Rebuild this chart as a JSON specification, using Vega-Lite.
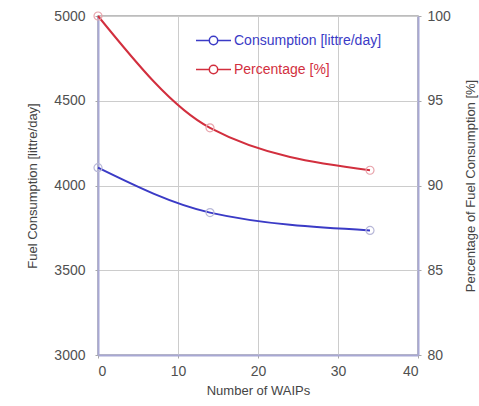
{
  "$schema": "https://vega.github.io/schema/vega-lite/v6.json",
  "width": 320,
  "height": 339,
  "autosize": "none",
  "padding": {"left": 98, "top": 16, "right": 61, "bottom": 51},
  "background": "white",
  "config": {
    "font": "Liberation Sans",
    "view": {"stroke": "#a8a8a8", "strokeWidth": 1.5},
    "axis": {
      "labelFontSize": 14,
      "labelColor": "#505050",
      "titleFontSize": 13,
      "titleFontWeight": "normal",
      "titleColor": "#444444",
      "domainColor": "#a8a8d4",
      "domainWidth": 2,
      "tickColor": "#a8a8a8",
      "tickSize": 3,
      "gridColor": "#cccccc",
      "gridWidth": 1,
      "format": "d"
    }
  },
  "data": {
    "values": [
      {"n": 0, "consumption": 4105, "percentage": 100},
      {"n": 14, "consumption": 3840, "percentage": 93.4},
      {"n": 34, "consumption": 3735, "percentage": 90.9}
    ]
  },
  "encoding": {
    "x": {
      "field": "n",
      "type": "quantitative",
      "scale": {"domain": [0, 40], "nice": false},
      "axis": {"title": "Number of WAIPs", "values": [0, 10, 20, 30, 40], "labelPadding": 6, "titlePadding": 6}
    }
  },
  "layer": [
    {
      "encoding": {
        "y": {
          "field": "consumption",
          "type": "quantitative",
          "scale": {"domain": [3000, 5000], "nice": false, "zero": false},
          "axis": {"title": "Fuel Consumption [littre/day]", "values": [3000, 3500, 4000, 4500, 5000], "labelPadding": 10, "titlePadding": 14}
        }
      },
      "layer": [
        {
          "mark": {"type": "line", "interpolate": "monotone", "strokeWidth": 2},
          "encoding": {
            "color": {
              "datum": "Consumption [littre/day]",
              "type": "nominal",
              "scale": {"domain": ["Consumption [littre/day]", "Percentage [%]"], "range": ["#3b3bc6", "#d22f3e"]},
              "legend": {
                "title": null,
                "orient": "none",
                "legendX": 97,
                "legendY": 10,
                "symbolType": "M-1,0L-0.24,0M0.24,0L1,0M0.24,0A0.24,0.24,0,1,1,-0.24,0A0.24,0.24,0,1,1,0.24,0",
                "symbolSize": 1225,
                "symbolStrokeWidth": 1.5,
                "symbolFillColor": "transparent",
                "labelFontSize": 14,
                "labelOffset": 2,
                "clipHeight": 29,
                "rowPadding": 0,
                "encode": {"labels": {"update": {"fill": {"scale": "color", "field": "value"}}}}
              }
            }
          }
        },
        {
          "mark": {"type": "point", "shape": "circle", "filled": false, "size": 64, "stroke": "#b8b8d8", "strokeWidth": 1.2, "opacity": 1}
        }
      ]
    },
    {
      "encoding": {
        "y": {
          "field": "percentage",
          "type": "quantitative",
          "scale": {"domain": [80, 100], "nice": false, "zero": false},
          "axis": {"title": "Percentage of Fuel Consumption [%]", "orient": "right", "values": [80, 85, 90, 95, 100], "grid": false, "labelPadding": 6, "titlePadding": 27, "titleAngle": 270}
        }
      },
      "layer": [
        {
          "mark": {"type": "line", "interpolate": "monotone", "strokeWidth": 2},
          "encoding": {
            "color": {"datum": "Percentage [%]", "type": "nominal"}
          }
        },
        {
          "mark": {"type": "point", "shape": "circle", "filled": false, "size": 64, "stroke": "#e8a4ac", "strokeWidth": 1.2, "opacity": 1}
        }
      ]
    }
  ],
  "resolve": {"scale": {"y": "independent"}}
}
